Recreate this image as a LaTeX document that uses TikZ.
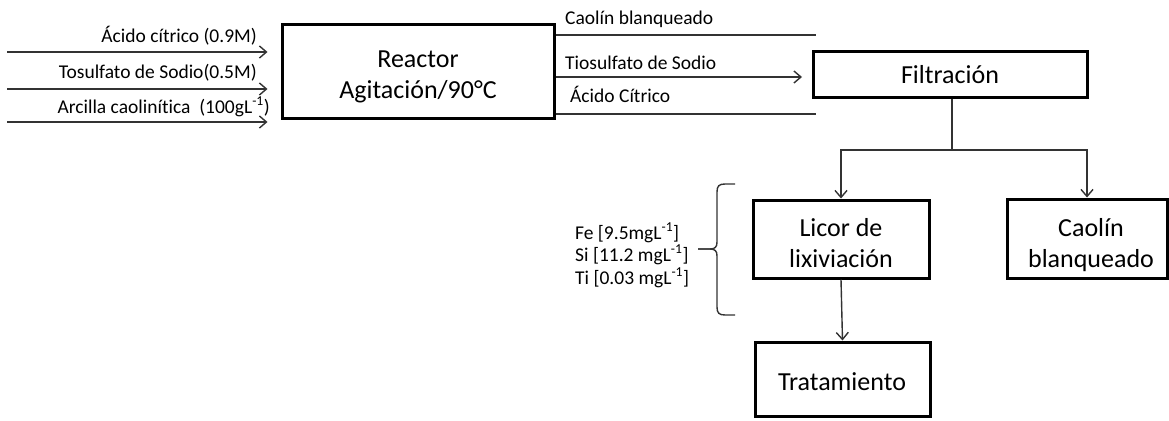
\documentclass[tikz,border=0pt]{standalone}
\usepackage{fontspec}
\setmainfont{Carlito}[Ligatures=NoCommon]
\usetikzlibrary{arrows.meta}
\begin{document}
\begin{tikzpicture}[x=1pt,y=-1pt,
  box/.style={draw=black,line width=3pt,inner sep=0pt},
  conn/.style={draw=black!80,line width=1.4pt},
  arr/.style={conn,-{Straight Barb[length=7pt,width=12pt]}},
  big/.style={font=\fontsize{26}{31}\selectfont,inner sep=0pt},
  small/.style={font=\fontsize{19.5}{22}\selectfont,inner sep=0pt},
  sm/.style={font=\fontsize{19.5}{22}\selectfont,inner sep=0pt,anchor=base west}]
\useasboundingbox (0,0) rectangle (1169,420);

% boxes
\node[box,minimum width=272pt,minimum height=93pt] (reactor) at (418,71.5) {};
\node[box,minimum width=274pt,minimum height=45pt] (filt) at (950,74.5) {};
\node[box,minimum width=176pt,minimum height=78pt] (licor) at (841,239) {};
\node[box,minimum width=160pt,minimum height=79pt] (caolin) at (1087,238.5) {};
\node[box,minimum width=175pt,minimum height=74pt] (trat) at (842.5,379) {};

% box texts
\node[big,anchor=base] (reactorT) at (418,67) {\begin{tabular}[t]{@{}c@{}}Reactor\\Agitación/90°C\end{tabular}};
\node[big,anchor=base] (filtT) at (950,83) {Filtración};
\node[big,anchor=base] (licorT) at (841,236) {\begin{tabular}[t]{@{}c@{}}Licor de\\lixiviación\end{tabular}};
\node[big,anchor=base] (caolinT) at (1091,236) {\begin{tabular}[t]{@{}c@{}}Caolín\\blanqueado\end{tabular}};
\node[big,anchor=base] (tratT) at (842,390) {Tratamiento};

% inputs
\coordinate (in1) at (7,52);
\coordinate (in2) at (7,89);
\coordinate (in3) at (7,122);
\draw[arr,shorten >=13pt] (in1) -- (reactor.west |- in1);
\draw[arr,shorten >=13pt] (in2) -- (reactor.west |- in2);
\draw[arr,shorten >=13pt] (in3) -- (reactor.west |- in3);
\node[small,anchor=base east] (t1) at (257,42) {Ácido cítrico (0.9M)};
\node[small,anchor=base east] (t2) at (257,78) {Tosulfato de Sodio(0.5M)};
\node[small,anchor=base east] (t3) at (270,113) {Arcilla caolinítica~ (100gL\textsuperscript{-1})};

% outputs of reactor
\coordinate (o1) at (816,35);
\coordinate (o2) at (802,77);
\coordinate (o3) at (816,114);
\draw[conn] (reactor.east |- o1) -- (o1);
\draw[arr] (reactor.east |- o2) -- (o2);
\draw[conn] (reactor.east |- o3) -- (o3);
\node[sm] (ot1) at (565,25) {Caolín blanqueado};
\node[sm] (ot2) at (565,70) {Tiosulfato de Sodio};
\node[sm] (ot3) at (570,102) {Ácido Cítrico};

% split
\coordinate (split) at (952,150);
\draw[arr] (filt.south -| split) -- (split) -| (licor.north);
\draw[arr] (split) -| (caolin.north);
\draw[arr] (licor.south) -- (trat.north);

% brace
\draw[conn] (735,184) -- (725,184) .. controls (719,184) and (717,186) .. (717,192)
  -- (717,242) .. controls (717,247) and (715,249) .. (710,249) -- (698,249);
\draw[conn] (698,249) -- (710,249) .. controls (715,249) and (717,251) .. (717,256)
  -- (717,307) .. controls (717,313) and (719,315) .. (725,315) -- (735,315);

% element texts
\node[sm] (fe) at (575,239) {Fe [9.5mgL\textsuperscript{-1}]};
\node[sm] (si) at (575,261.5) {Si [11.2 mgL\textsuperscript{-1}]};
\node[sm] (ti) at (575,284) {Ti [0.03 mgL\textsuperscript{-1}]};
\end{tikzpicture}
\end{document}
